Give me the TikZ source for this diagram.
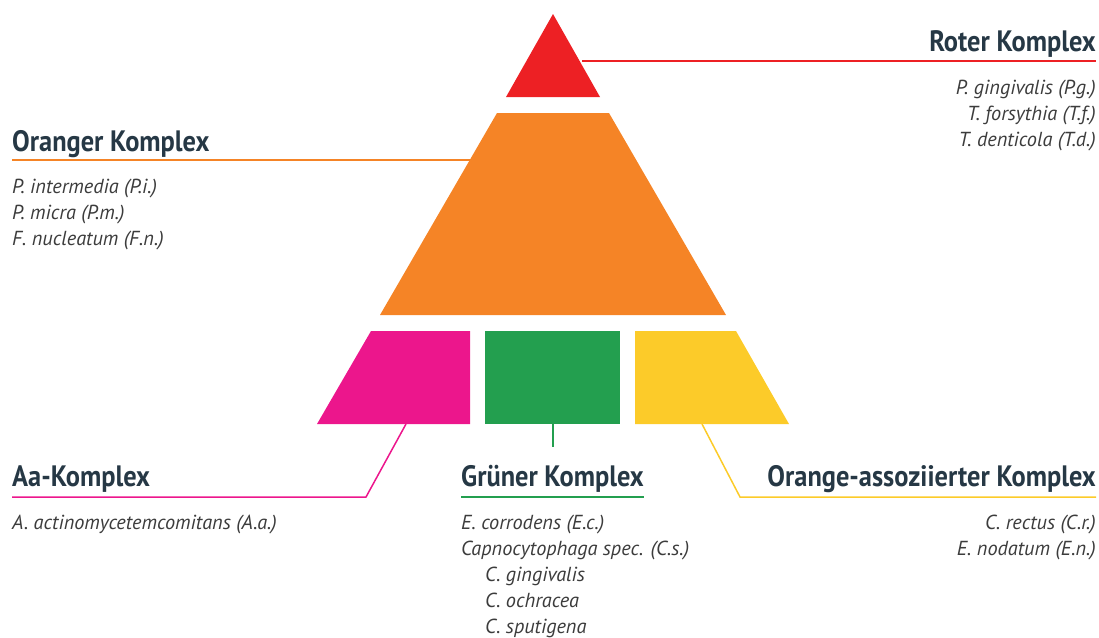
\documentclass[tikz,border=0pt]{standalone}
\usepackage{fontspec}
\setmainfont{PT Sans}
\newfontfamily\headfont[FakeStretch=0.895]{PT Sans}
\newfontfamily\specfont{PT Sans}
\definecolor{cred}{HTML}{ED2024}
\definecolor{corange}{HTML}{F58426}
\definecolor{cpink}{HTML}{EC168C}
\definecolor{cgreen}{HTML}{239F4F}
\definecolor{cyellow}{HTML}{FCCB29}
\definecolor{ctext}{HTML}{263845}
\definecolor{cspec}{HTML}{3C3C3C}
\begin{document}
\begin{tikzpicture}[x=1pt,y=-1pt,
  heading/.style={inner sep=0pt, font=\headfont\fontsize{29.5}{31}\selectfont\bfseries, text=ctext},
  species/.style={inner sep=0pt, font=\specfont\fontsize{20.3}{26}\selectfont\itshape, text=cspec, align=left},
  speciesr/.style={species, align=right},
  conn/.style={line width=1.5pt}]
\useasboundingbox (0,0) rectangle (1099,637);
% pyramid pieces
\fill[cred] (553,14) -- (600,97) -- (506,97) -- cycle;
\fill[corange] (497,113) -- (609,113) -- (726,315) -- (380,315) -- cycle;
\fill[cpink] (371,331) -- (470,331) -- (470,424) -- (317,424) -- cycle;
\fill[cgreen] (485,331) rectangle (620,424);
\fill[cyellow] (635,331) -- (736,331) -- (789,424) -- (635,424) -- cycle;
% anchor coordinates on the shapes
\coordinate (redpt) at (582,61);
\coordinate (orangept) at (470,160);
\coordinate (pinkpt) at (406,424);
\coordinate (greenpt) at (553,424);
\coordinate (yellowpt) at (702,424);
% headings
\node[heading, anchor=base east] (roter) at (1096,51) {Roter Komplex};
\node[heading, anchor=base west] (oranger) at (12,151) {Oranger Komplex};
\node[heading, anchor=base west] (aa) at (12,486) {Aa-Komplex};
\node[heading, anchor=base west] (gruen) at (461,486) {Grüner Komplex};
\node[heading, anchor=base east] (orass) at (1096,486) {Orange-assoziierter Komplex};
% underline end coordinates
\coordinate (roterE) at (1096,61);
\coordinate (orangerW) at (12,160);
\coordinate (aaW) at (12,497);
\coordinate (aaK) at (366,497);
\coordinate (gruenW) at (461,497);
\coordinate (gruenE) at (644,497);
\coordinate (gruenT) at (553,447);
\coordinate (orassE) at (1096,497);
\coordinate (orassK) at (740,497);
% connectors
\draw[conn, cred] (redpt) -- (roterE);
\draw[conn, corange] (orangerW) -- (orangept);
\draw[conn, cpink] (pinkpt) -- (aaK) -- (aaW);
\draw[conn, cgreen] (greenpt) -- (gruenT);
\draw[conn, cgreen] (gruenW) -- (gruenE);
\draw[conn, cyellow] (yellowpt) -- (orassK) -- (orassE);
% species lists (base anchor = baseline of last line)
\node[speciesr, anchor=base east] (roterS) at (1096,146) {P. gingivalis (P.g.)\\T. forsythia (T.f.)\\T. denticola (T.d.)};
\node[species, anchor=base west] (orangerS) at (12,245) {P. intermedia (P.i.)\\P. micra (P.m.)\\F. nucleatum (F.n.)};
\node[species, anchor=base west] (aaS) at (12,529) {A. actinomycetemcomitans (A.a.)};
\node[species, anchor=base west] (gruenS) at (461,633) {E. corrodens (E.c.)\\Capnocytophaga spec. (C.s.)\\\hspace*{24pt}C. gingivalis\\\hspace*{24pt}C. ochracea\\\hspace*{24pt}C. sputigena};
\node[speciesr, anchor=base east] (orassS) at (1096,555) {C. rectus (C.r.)\\E. nodatum (E.n.)};
\end{tikzpicture}
\end{document}
